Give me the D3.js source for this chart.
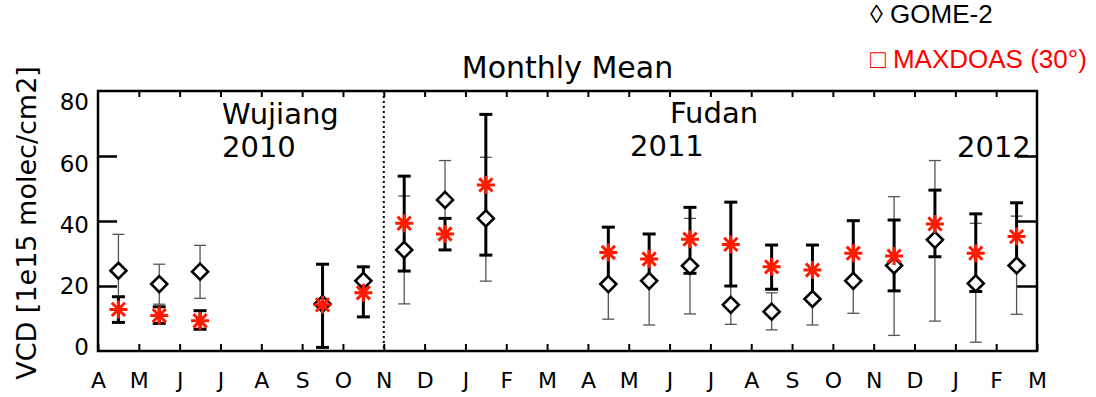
<!DOCTYPE html>
<html>
<head>
<meta charset="utf-8">
<title>Monthly Mean</title>
<script src="https://cdn.jsdelivr.net/npm/d3@7"></script>
<style>
  body { margin: 0; background: #fff; }
</style>
</head>
<body>
<div id="chart"></div>
<script>
// month labels, April 2010 .. March 2012
const months = ["A","M","J","J","A","S","O","N","D","J","F","M",
                "A","M","J","J","A","S","O","N","D","J","F","M"];
// month index (0 = Apr 2010) of each data point
const monthIdx = [0,1,2,5,6, 7,8,9, 12,13,14,15,16,17,18,19,20,21,22];

// GOME-2 monthly mean and its range
const gome   = [24.7,20.6,24.4,14.5,21.6, 31.1,46.5,40.8, 20.6,21.6,26.2,14.2,12.1,16.0,21.6,26.3,34.2,20.8,26.3];
const gomeLo = [16.7,14.4,16.2,null,null, 14.5,36.0,21.5,  9.8, 8.0,11.4, 8.2, 6.5, 8.0,11.6, 4.8, 9.2, 2.7,11.3];
const gomeHi = [35.9,26.7,32.5,null,null, 47.7,58.6,59.6, 30.3,36.0,40.8,20.0,17.9,24.9,30.1,47.5,58.6,39.3,41.5];

// MAXDOAS (30°) monthly mean and its range
const maxdoas = [12.8,10.9, 9.3,14.2,17.9, 39.3,36.0,51.1, 30.3,28.3,34.4,32.8,25.9,24.9,30.1,29.2,39.1,30.1,35.2];
const maxLo   = [ 8.8, 8.5, 6.7, 1.1,10.5, 24.6,31.1,29.5, 21.0,22.0,23.9,20.0,19.0,16.5,22.0,18.5,29.0,18.3,26.5];
const maxHi   = [16.7,13.6,12.4,26.7,25.9, 53.8,40.8,72.8, 38.1,36.0,44.2,45.8,32.6,32.6,40.1,40.3,49.5,42.2,45.6];

const yTicks = [0,20,40,60,80];

const W = 1096, H = 397;
const pl = 98, pr = 1037, pt = 91, pb = 351;
const FONT = "DejaVu Sans", LEG = "Liberation Sans";

const svg = d3.select("#chart").append("svg")
  .attr("width", W).attr("height", H)
  .attr("font-family", FONT);

const x = d3.scaleLinear().domain([0, 23]).range([pl, pr]);
const y = d3.scaleLinear().domain([0, 80]).range([pb, pt]);
// tick labels sit slightly inside at the ends, like the original
const yLab = d3.scaleLinear().domain([0, 80]).range([347, 102]);

// ticks
svg.append("g")
  .attr("transform", `translate(0,${pb})`)
  .call(d3.axisBottom(x).tickValues(d3.range(24)).tickSize(-7).tickPadding(21)
        .tickFormat(i => months[i]))
  .call(g => g.select(".domain").remove())
  .call(g => g.selectAll("line").attr("stroke-width", 2))
  .call(g => g.selectAll("text").attr("fill", "#000"))
  .attr("font-family", FONT).attr("font-size", 22);

svg.append("g")
  .attr("transform", `translate(0,${pt})`)
  .call(d3.axisTop(x).tickValues(d3.range(1, 23)).tickSize(-6).tickFormat(""))
  .call(g => g.select(".domain").remove())
  .call(g => g.selectAll("line").attr("stroke-width", 2));

svg.append("g")
  .attr("transform", `translate(${pl},0)`)
  .call(d3.axisLeft(y).tickValues([20,40,60]).tickSize(-19).tickFormat(""))
  .call(g => g.select(".domain").remove())
  .call(g => g.selectAll("line").attr("stroke-width", 2.5));

svg.append("g")
  .attr("transform", `translate(${pr},0)`)
  .call(d3.axisRight(y).tickValues([20,40,60]).tickSize(-20).tickFormat(""))
  .call(g => g.select(".domain").remove())
  .call(g => g.selectAll("line").attr("stroke-width", 2.5));

svg.append("g").selectAll("text").data(yTicks).join("text")
  .attr("x", 89).attr("y", d => yLab(d) + 8.3)
  .attr("text-anchor", "end").attr("font-size", 23)
  .text(d => d);

// frame
svg.append("rect")
  .attr("x", pl).attr("y", pt)
  .attr("width", pr - pl).attr("height", pb - pt)
  .attr("fill", "none").attr("stroke", "#000").attr("stroke-width", 2.5);

// Wujiang / Fudan separator (start of Nov 2010)
svg.append("line")
  .attr("x1", x(7)).attr("x2", x(7)).attr("y1", pt).attr("y2", pb)
  .attr("stroke", "#000").attr("stroke-width", 2).attr("stroke-dasharray", "2,3");

// texts
svg.append("text").attr("x", (pl + pr) / 2).attr("y", 78)
  .attr("text-anchor", "middle").attr("font-size", 30).text("Monthly Mean");
const notes = [["Wujiang", 222, 124], ["2010", 222, 157], ["Fudan", 670, 123],
               ["2011", 630, 156], ["2012", 957, 157]];
svg.append("g").selectAll("text").data(notes).join("text")
  .attr("x", d => d[1]).attr("y", d => d[2]).attr("font-size", 29)
  .text(d => d[0]);

svg.append("text")
  .attr("transform", "translate(36,223) rotate(-90)")
  .attr("text-anchor", "middle").attr("font-size", 27)
  .text("VCD [1e15 molec/cm2]");

svg.append("text").attr("x", 870).attr("y", 23)
  .attr("font-family", LEG).attr("font-size", 26)
  .text("◊ GOME-2");
svg.append("text").attr("x", 870).attr("y", 68)
  .attr("font-family", LEG).attr("font-size", 26).attr("fill", "#ff0000")
  .text("□ MAXDOAS (30°)");

// data rows
const rows = monthIdx.map((m, i) => ({
  xm: m + 0.5, g: gome[i], gLo: gomeLo[i], gHi: gomeHi[i],
  m: maxdoas[i], mLo: maxLo[i], mHi: maxHi[i]
}));

function errBars(data, lo, hi, color, width, cap) {
  const g = svg.append("g").attr("stroke", color).attr("stroke-width", width);
  const d = data.filter(r => r[lo] != null);
  g.append("g").selectAll("line").data(d).join("line")
    .attr("x1", r => x(r.xm)).attr("x2", r => x(r.xm))
    .attr("y1", r => y(r[lo])).attr("y2", r => y(r[hi]));
  [lo, hi].forEach(k => {
    g.append("g").selectAll("line").data(d).join("line")
      .attr("x1", r => x(r.xm) - cap).attr("x2", r => x(r.xm) + cap)
      .attr("y1", r => y(r[k])).attr("y2", r => y(r[k]));
  });
}
errBars(rows, "gLo", "gHi", "#555", 1.3, 6);
errBars(rows, "mLo", "mHi", "#000", 3, 6.5);

svg.append("g").selectAll("path").data(rows).join("path")
  .attr("transform", r => `translate(${x(r.xm)},${y(r.g)})`)
  .attr("d", "M0,-8L8,0L0,8L-8,0Z")
  .attr("fill", "#fff").attr("stroke", "#000").attr("stroke-width", 2.6);

const s = 9, t = 6.6;
svg.append("g").selectAll("path").data(rows).join("path")
  .attr("transform", r => `translate(${x(r.xm)},${y(r.m)})`)
  .attr("d", `M0,${-s}V${s}M${-s},0H${s}M${-t},${-t}L${t},${t}M${-t},${t}L${t},${-t}`)
  .attr("fill", "none").attr("stroke", "#ff1a00").attr("stroke-width", 3);
</script>
</body>
</html>
